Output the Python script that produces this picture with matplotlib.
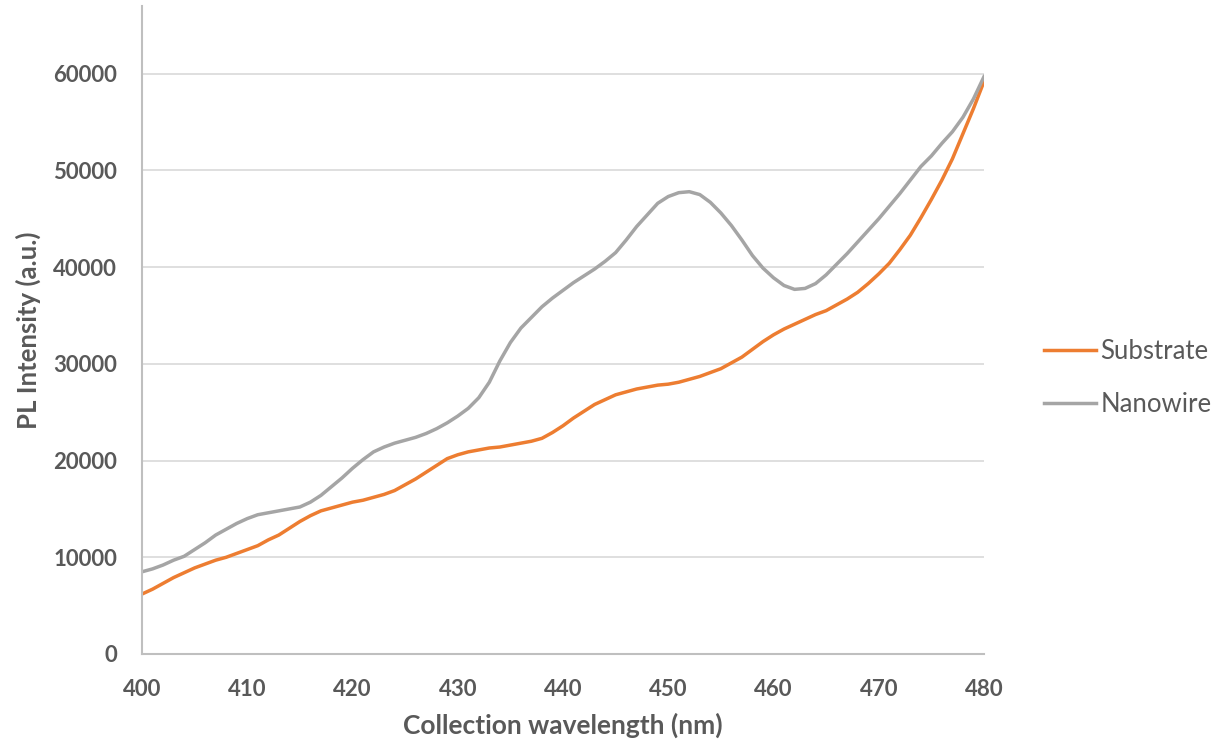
import matplotlib
matplotlib.use("Agg")
import matplotlib.pyplot as plt
import numpy as np

# wavelength in nm, 1 nm steps
wavelength = np.arange(400, 481)

substrate = [6200, 6700, 7300, 7900, 8400, 8900, 9300, 9700, 10000, 10400,
             10800, 11200, 11800, 12300, 13000, 13700, 14300, 14800, 15100, 15400,
             15700, 15900, 16200, 16500, 16900, 17500, 18100, 18800, 19500, 20200,
             20600, 20900, 21100, 21300, 21400, 21600, 21800, 22000, 22300, 22900,
             23600, 24400, 25100, 25800, 26300, 26800, 27100, 27400, 27600, 27800,
             27900, 28100, 28400, 28700, 29100, 29500, 30100, 30700, 31500, 32300,
             33000, 33600, 34100, 34600, 35100, 35500, 36100, 36700, 37400, 38300,
             39300, 40400, 41800, 43300, 45100, 47000, 49000, 51200, 53800, 56400,
             59200]

nanowire = [8500, 8800, 9200, 9700, 10100, 10800, 11500, 12300, 12900, 13500,
            14000, 14400, 14600, 14800, 15000, 15200, 15700, 16400, 17300, 18200,
            19200, 20100, 20900, 21400, 21800, 22100, 22400, 22800, 23300, 23900,
            24600, 25400, 26500, 28100, 30300, 32200, 33700, 34800, 35900, 36800,
            37600, 38400, 39100, 39800, 40600, 41500, 42800, 44200, 45400, 46600,
            47300, 47700, 47800, 47500, 46700, 45600, 44300, 42800, 41200, 39900,
            38900, 38100, 37700, 37800, 38300, 39200, 40300, 41400, 42600, 43800,
            45000, 46300, 47600, 49000, 50400, 51500, 52800, 54000, 55500, 57400,
            59700]

text_col = "#595959"
plt.rcParams['font.family'] = ['Lato', 'DejaVu Sans']

fig = plt.figure(figsize=(12.3, 7.45), dpi=100)
ax = fig.add_axes([142/1230, 1-654/745, (984-142)/1230, (654-6)/745])

ax.plot(wavelength, substrate, color="#ED7D31", lw=2.5, label="Substrate")
ax.plot(wavelength, nanowire, color="#A5A5A5", lw=2.5, label="Nanowire")

ax.set_xlim(400, 480)
ax.set_ylim(0, 67000)
ax.set_xticks(range(400, 481, 10))
ax.set_yticks(range(0, 60001, 10000))
ax.grid(axis="y", color="#D9D9D9", lw=1.2)
ax.set_axisbelow(True)

for s in ["top", "right"]:
    ax.spines[s].set_visible(False)
for s in ["left", "bottom"]:
    ax.spines[s].set_color("#BFBFBF")
    ax.spines[s].set_linewidth(1.5)

ax.tick_params(length=0, labelsize=16, labelcolor=text_col, pad=18)
for lab in ax.get_xticklabels() + ax.get_yticklabels():
    lab.set_fontweight("bold")

ax.set_xlabel("Collection wavelength (nm)", fontsize=19, fontweight="bold",
              color=text_col, labelpad=9)
ax.set_ylabel("PL Intensity (a.u.)", fontsize=18.5, fontweight="bold",
              color=text_col, labelpad=9)

leg = fig.legend(loc="center left", bbox_to_anchor=(1021/1230, 1-378/745),
                 frameon=False, fontsize=18.5, handlelength=2.0, handletextpad=0.2,
                 labelspacing=1.1)
for t in leg.get_texts():
    t.set_color(text_col)

fig.savefig("out.png", dpi=100)
